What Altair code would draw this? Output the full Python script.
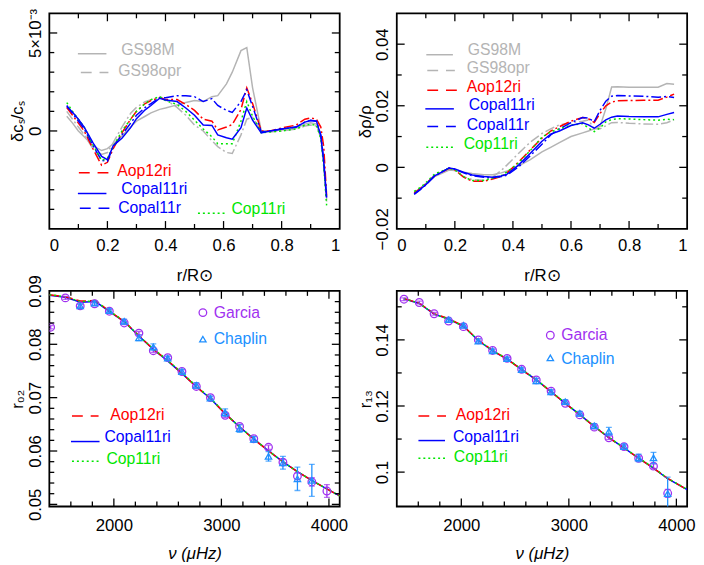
import altair as alt
import pandas as pd

FONT = "Liberation Sans"
W, H = 295, 219

# ---------------- Panel 1: delta c_s / c_s (units of 1e-3) ----------------
r_cs = [0.06, 0.08, 0.10, 0.12, 0.15, 0.18, 0.20, 0.22, 0.25, 0.28, 0.30, 0.33, 0.35, 0.38,
        0.40, 0.44, 0.47, 0.50, 0.53, 0.56, 0.58, 0.61, 0.63, 0.66, 0.68, 0.70, 0.73, 0.76,
        0.80, 0.85, 0.88, 0.90, 0.92, 0.935, 0.945, 0.955]
cs_GS98M = [0.75, 0.4, 0.0, -0.3, -0.75, -1.0, -0.9, -0.65, -0.25, 0.2, 0.5, 0.75, 0.92, 1.1,
            1.17, 1.33, 1.45, 1.55, 1.5, 1.75, 1.8, 2.4, 3.0, 4.1, 4.25, 2.2, 0.0, 0.0,
            0.05, 0.15, 0.35, 0.42, 0.35, -0.3, -1.6, -3.5]
cs_GS98opr = [1.0, 0.6, 0.2, -0.2, -0.9, -1.2, -1.1, -0.6, 0.2, 0.9, 1.2, 1.5, 1.6, 1.75,
              1.6, 1.2, 0.8, 0.3, 0.0, -0.5, -0.8, -1.1, -1.15, -0.2, 0.6, 0.7, 0.0, -0.05,
              0.0, 0.1, 0.25, 0.3, 0.25, -0.35, -1.7, -3.6]
cs_Aop12ri = [1.2, 0.8, 0.4, 0.0, -0.9, -1.75, -1.6, -0.9, -0.1, 0.6, 1.0, 1.4, 1.55, 1.7,
              1.6, 1.6, 1.35, 1.05, 0.6, 0.5, 0.05, 0.2, 0.33, 1.1, 2.2, 1.4, 0.0, 0.0,
              0.15, 0.3, 0.6, 0.67, 0.6, 0.2, -0.8, -3.3]
cs_Copal11r = [1.3, 0.9, 0.5, 0.1, -0.75, -1.5, -1.55, -0.8, -0.2, 0.4, 0.8, 1.2, 1.4, 1.7,
               1.7, 1.8, 1.8, 1.75, 1.5, 1.65, 1.3, 1.05, 0.95, 1.5, 2.1, 1.25, -0.05, 0.0,
               0.1, 0.2, 0.45, 0.55, 0.5, -0.2, -1.5, -3.5]
cs_Cop11ri = [1.45, 1.0, 0.6, 0.2, -0.7, -1.5, -1.4, -0.8, 0.0, 0.6, 1.0, 1.4, 1.6, 1.75,
              1.55, 1.35, 1.0, 0.55, 0.1, -0.3, -0.65, -0.65, -0.65, 0.5, 1.5, 0.75, -0.1, -0.05,
              0.0, 0.1, 0.3, 0.33, 0.3, -0.4, -1.8, -3.8]
cs_Copal11ri = [1.25, 0.95, 0.6, 0.2, -0.6, -1.3, -1.47, -0.75, -0.37, 0.17, 0.63, 1.08, 1.3, 1.67,
                1.58, 1.5, 1.17, 0.8, 0.3, 0.28, -0.2, -0.35, -0.42, 0.17, 1.17, 0.55, -0.1, 0.0,
                0.1, 0.2, 0.45, 0.53, 0.5, -0.25, -1.6, -3.4]

# ---------------- Panel 2: delta rho / rho ----------------
r_rho = [0.06, 0.08, 0.10, 0.13, 0.15, 0.18, 0.20, 0.23, 0.26, 0.30, 0.33, 0.36, 0.38, 0.42,
         0.46, 0.50, 0.53, 0.56, 0.60, 0.64, 0.66, 0.68, 0.70, 0.72, 0.74, 0.76, 0.80, 0.85,
         0.90, 0.93, 0.955]
rho_GS98M = [-0.0085, -0.0071, -0.0055, -0.0030, -0.0022, -0.0009, -0.0010, -0.0016, -0.0020, -0.0024,
             -0.0024, -0.0018, -0.0012, 0.0005, 0.0025, 0.0050, 0.0065, 0.0080, 0.0100, 0.0112,
             0.0118, 0.0125, 0.0133, 0.0190, 0.0261, 0.0262, 0.0260, 0.0260, 0.0260, 0.0272, 0.0270]
rho_GS98opr = [-0.0082, -0.0068, -0.0052, -0.0026, -0.0016, -0.0005, -0.0010, -0.0030, -0.0040, -0.0042,
               -0.0032, -0.0010, 0.0008, 0.0046, 0.0082, 0.0110, 0.0125, 0.0138, 0.0145, 0.0150,
               0.0154, 0.0125, 0.0125, 0.0135, 0.0145, 0.0146, 0.0143, 0.0141, 0.0140, 0.0145, 0.0154]
rho_Aop12ri = [-0.0083, -0.0070, -0.0054, -0.0028, -0.0018, -0.0003, -0.0008, -0.0032, -0.0045, -0.0045,
               -0.0038, -0.0030, -0.0018, 0.0018, 0.0057, 0.0095, 0.0118, 0.0132, 0.0150, 0.0162,
               0.0158, 0.0146, 0.0175, 0.0200, 0.0212, 0.0216, 0.0217, 0.0218, 0.0218, 0.0228, 0.0238]
rho_Copal11r = [-0.0088, -0.0073, -0.0057, -0.0028, -0.0018, -0.0002, -0.0006, -0.0018, -0.0027, -0.0032,
                -0.0034, -0.0030, -0.0025, 0.0002, 0.0038, 0.0075, 0.0105, 0.0125, 0.0145, 0.0162,
                0.0160, 0.0148, 0.0185, 0.0215, 0.0231, 0.0233, 0.0232, 0.0231, 0.0228, 0.0230, 0.0227]
rho_Cop11ri = [-0.0078, -0.0066, -0.0050, -0.0022, -0.0014, -0.0003, -0.0008, -0.0030, -0.0043, -0.0043,
               -0.0035, -0.0027, -0.0015, 0.0015, 0.0055, 0.0098, 0.0115, 0.0125, 0.0137, 0.0142,
               0.0128, 0.0116, 0.0128, 0.0148, 0.0155, 0.0158, 0.0157, 0.0155, 0.0153, 0.0156, 0.0155]
rho_Copal11ri = [-0.0086, -0.0072, -0.0056, -0.0028, -0.0018, -0.0002, -0.0005, -0.0016, -0.0025, -0.0030,
                 -0.0032, -0.0028, -0.0022, 0.0008, 0.0046, 0.0085, 0.0108, 0.0118, 0.0136, 0.0145,
                 0.0138, 0.0127, 0.0140, 0.0154, 0.0163, 0.0167, 0.0165, 0.0164, 0.0164, 0.0172, 0.0178]

# ---------------- Panel 3: r02 ----------------
nu_m02 = [1400, 1550, 1690, 1830, 1960, 2100, 2230, 2370, 2500, 2630, 2770, 2900, 3030,
          3170, 3300, 3440, 3570, 3710, 3840, 3980, 4100]
r02_Aop12ri = [0.0893, 0.0889, 0.0881, 0.0882, 0.0862, 0.0842, 0.0817, 0.0790, 0.0770, 0.0746, 0.0720,
               0.0698, 0.0671, 0.0645, 0.0622, 0.0600, 0.0580, 0.0561, 0.0545, 0.0529, 0.0516]
r02_Copal11ri = [0.0892, 0.0888, 0.0879, 0.0880, 0.0861, 0.0842, 0.0816, 0.0790, 0.0769, 0.0746, 0.0720,
                 0.0698, 0.0671, 0.0645, 0.0623, 0.0600, 0.0580, 0.0561, 0.0545, 0.0529, 0.0516]
r02_Cop11ri = [0.0893, 0.0889, 0.0880, 0.0881, 0.0862, 0.0843, 0.0816, 0.0791, 0.0770, 0.0747, 0.0721,
               0.0699, 0.0671, 0.0645, 0.0623, 0.0600, 0.0580, 0.0561, 0.0545, 0.0529, 0.0516]
garcia_nu02 = [1412, 1549, 1687, 1821, 1958, 2096, 2233, 2367, 2501, 2633, 2767, 2898, 3035, 3169,
               3301, 3438, 3572, 3707, 3841, 3981]
garcia_r02 = [0.0832, 0.0887, 0.0872, 0.0876, 0.0862, 0.0840, 0.0821, 0.0788, 0.0775, 0.0749, 0.0721,
              0.0700, 0.0667, 0.0646, 0.0623, 0.0607, 0.0579, 0.0553, 0.0542, 0.0525]
garcia_e02 = [0.0003, 0.0003, 0.0003, 0.0003, 0.0003, 0.0003, 0.0003, 0.0003, 0.0003, 0.0003, 0.0003,
              0.0003, 0.0004, 0.0004, 0.0004, 0.0004, 0.0005, 0.0006, 0.0008, 0.0012]
chaplin_nu02 = [1687, 1821, 1958, 2096, 2233, 2367, 2501, 2633, 2767, 2898, 3035, 3169, 3301, 3438,
                3572, 3707, 3841]
chaplin_r02 = [0.0872, 0.0877, 0.0863, 0.0843, 0.0812, 0.0795, 0.0774, 0.0749, 0.0723, 0.0699, 0.0672,
               0.0642, 0.0622, 0.0590, 0.0578, 0.0548, 0.0545]
chaplin_e02 = [0.0004, 0.0004, 0.0004, 0.0004, 0.0005, 0.0006, 0.0004, 0.0004, 0.0005, 0.0004, 0.0007,
               0.0007, 0.0005, 0.0009, 0.0012, 0.0022, 0.0030]

# ---------------- Panel 4: r13 ----------------
nu_m13 = [1467, 1609, 1747, 1882, 2020, 2158, 2291, 2426, 2561, 2697, 2835, 2967, 3102, 3237,
          3372, 3513, 3649, 3787, 3919, 4100]
r13_Aop12ri = [0.1525, 0.1511, 0.1479, 0.1464, 0.1442, 0.1399, 0.1368, 0.1342, 0.1310, 0.1279, 0.1243,
               0.1208, 0.1173, 0.1138, 0.1104, 0.1073, 0.1042, 0.1012, 0.0981, 0.0947]
r13_Copal11ri = [0.1524, 0.1510, 0.1478, 0.1463, 0.1441, 0.1398, 0.1367, 0.1342, 0.1310, 0.1279, 0.1243,
                 0.1208, 0.1174, 0.1138, 0.1104, 0.1073, 0.1042, 0.1012, 0.0980, 0.0947]
r13_Cop11ri = [0.1525, 0.1511, 0.1478, 0.1463, 0.1441, 0.1399, 0.1367, 0.1343, 0.1311, 0.1280, 0.1244,
               0.1209, 0.1174, 0.1139, 0.1105, 0.1074, 0.1043, 0.1013, 0.0981, 0.0948]
garcia_nu13 = [1467, 1609, 1747, 1882, 2020, 2158, 2291, 2426, 2561, 2697, 2835, 2967, 3102, 3237,
               3372, 3513, 3649, 3787, 3919]
garcia_r13 = [0.1523, 0.1513, 0.1479, 0.1457, 0.1440, 0.1400, 0.1368, 0.1344, 0.1311, 0.1279, 0.1245,
              0.1208, 0.1173, 0.1136, 0.1104, 0.1077, 0.1042, 0.1018, 0.0936]
garcia_e13 = [0.0004, 0.0004, 0.0004, 0.0004, 0.0004, 0.0004, 0.0004, 0.0004, 0.0004, 0.0004, 0.0004,
              0.0004, 0.0004, 0.0005, 0.0005, 0.0005, 0.0006, 0.0007, 0.0012]
chaplin_nu13 = [1882, 2020, 2158, 2291, 2426, 2561, 2697, 2835, 2967, 3102, 3237, 3372, 3513, 3649,
                3787, 3919]
chaplin_r13 = [0.1461, 0.1444, 0.1396, 0.1367, 0.1343, 0.1310, 0.1276, 0.1243, 0.1213, 0.1178, 0.1140,
               0.1123, 0.1077, 0.1043, 0.1043, 0.0935]
chaplin_e13 = [0.0005, 0.0005, 0.0006, 0.0005, 0.0005, 0.0005, 0.0008, 0.0006, 0.0006, 0.0006, 0.0007,
               0.0012, 0.0008, 0.0011, 0.0017, 0.0050]

# ---------------- styles ----------------
GRAY = "#b4b4b4"
RED = "#ff0000"
BLUE = "#0000ff"
GREEN = "#00e600"
PURPLE = "#a030f0"
SKY = "#2090ff"
DASHDOT = [10, 3, 2, 3]
DASH = [10, 4]
DOT = [2, 3]
LEG_DASH = [11, 8]


def line_layer(xs, ys, color, dash, sx, sy, ax, width=1.5):
    kw = dict(color=color, strokeWidth=width, clip=True)
    if dash is not None:
        kw["strokeDash"] = dash
    df = pd.DataFrame({"x": xs, "y": ys})
    return alt.Chart(df).mark_line(**kw).encode(
        x=alt.X("x:Q", scale=sx, axis=ax[0]),
        y=alt.Y("y:Q", scale=sy, axis=ax[1]),
    )


def points_layer(xs, ys, es, color, shape, sx, sy, ax):
    df = pd.DataFrame({"x": xs, "y": ys,
                       "lo": [a - b for a, b in zip(ys, es)],
                       "hi": [a + b for a, b in zip(ys, es)]})
    base = alt.Chart(df)
    X = alt.X("x:Q", scale=sx, axis=ax[0])
    bars = base.mark_rule(color=color, strokeWidth=1.3, clip=True).encode(
        x=X, y=alt.Y("lo:Q", scale=sy, axis=ax[1]), y2="hi:Q")
    caps_lo = base.mark_tick(color=color, orient="horizontal", size=6, thickness=1.3, clip=True).encode(
        x=X, y=alt.Y("lo:Q", scale=sy, axis=ax[1]))
    caps_hi = base.mark_tick(color=color, orient="horizontal", size=6, thickness=1.3, clip=True).encode(
        x=X, y=alt.Y("hi:Q", scale=sy, axis=ax[1]))
    pts = base.mark_point(shape=shape, filled=False, color=color, size=60 if shape == "circle" else 42,
                          strokeWidth=1.3, opacity=1, clip=True).encode(
        x=X, y=alt.Y("y:Q", scale=sy, axis=ax[1]))
    return [bars, caps_lo, caps_hi, pts]


def tick_layers(sx, sy, ax, xmaj, xmin, ymaj, ymin):
    out = []
    for vals, L in ((xmaj, 8), (xmin, 5)):
        base = alt.Chart(pd.DataFrame({"v": vals})).mark_rule(color="black", strokeWidth=1.3)
        xe = alt.X("v:Q", scale=sx, axis=ax[0])
        out.append(base.encode(x=xe, y=alt.value(H), y2=alt.value(H - L)))
        out.append(base.encode(x=xe, y=alt.value(0), y2=alt.value(L)))
    for vals, L in ((ymaj, 8), (ymin, 5)):
        base = alt.Chart(pd.DataFrame({"v": vals})).mark_rule(color="black", strokeWidth=1.3)
        ye = alt.Y("v:Q", scale=sy, axis=ax[1])
        out.append(base.encode(y=ye, x=alt.value(0), x2=alt.value(L)))
        out.append(base.encode(y=ye, x=alt.value(W), x2=alt.value(W - L)))
    return out


def legend_line(label, color, dash, x1, x2, ly, tx, ty):
    src = alt.Chart(pd.DataFrame({"t": [label]}))
    kw = dict(color=color, strokeWidth=1.5)
    if dash is not None:
        kw["strokeDash"] = dash
    rule = src.mark_rule(**kw).encode(x=alt.value(x1), x2=alt.value(x2), y=alt.value(ly))
    txt = src.mark_text(color=color, font=FONT, fontSize=16, align="left", baseline="middle").encode(
        text="t:N", x=alt.value(tx), y=alt.value(ty))
    return [rule, txt]


def legend_point(label, color, shape, px, py, tx, ty):
    src = alt.Chart(pd.DataFrame({"t": [label]}))
    pt = src.mark_point(shape=shape, filled=False, color=color, size=60 if shape == "circle" else 42,
                        strokeWidth=1.3, opacity=1).encode(x=alt.value(px), y=alt.value(py))
    txt = src.mark_text(color=color, font=FONT, fontSize=16, align="left", baseline="middle").encode(
        text="t:N", x=alt.value(tx), y=alt.value(ty))
    return [pt, txt]


def xaxis(values, fmt, title, italic=False, lpad=9, tpad=14):
    kw = dict(values=values, format=fmt, title=title, ticks=False, domain=False, grid=False,
              labelPadding=lpad, titlePadding=tpad, labelFontSize=17, titleFontSize=17,
              labelFont=FONT, titleFont=FONT, titleFontWeight="normal", labelColor="black",
              titleColor="black")
    if italic:
        kw["titleFontStyle"] = "italic"
    return alt.Axis(**kw)


def yaxis(values, title, fmt=None, expr=None):
    kw = dict(values=values, title=title, ticks=False, domain=False, grid=False,
              labelAngle=270, labelPadding=5, titlePadding=0, labelFontSize=17, titleFontSize=17,
              labelFont=FONT, titleFont=FONT, titleFontWeight="normal", labelColor="black",
              titleColor="black")
    if fmt is not None:
        kw["format"] = fmt
    if expr is not None:
        kw["labelExpr"] = expr
    return alt.Axis(**kw)


# ---------------- Panel 1 ----------------
sx1 = alt.Scale(domain=[0, 1], nice=False, zero=False)
sy1 = alt.Scale(domain=[-0.005, 0.006], nice=False, zero=False)
to_abs = lambda vals: [v / 1000.0 for v in vals]
ax1 = (xaxis([0, 0.2, 0.4, 0.6, 0.8, 1], ".1~f", "r/R\u2299"),
       yaxis([0, 0.005], "\u03b4c\u209b/c\u209b", expr="datum.value > 0.001 ? '5\u00d710\u207b\u00b3' : '0'"))
p1 = [
    line_layer(r_cs, to_abs(cs_GS98M), GRAY, None, sx1, sy1, ax1),
    line_layer(r_cs, to_abs(cs_GS98opr), GRAY, DASHDOT, sx1, sy1, ax1),
    line_layer(r_cs, to_abs(cs_Aop12ri), RED, DASHDOT, sx1, sy1, ax1),
    line_layer(r_cs, to_abs(cs_Copal11r), BLUE, DASHDOT, sx1, sy1, ax1),
    line_layer(r_cs, to_abs(cs_Cop11ri), GREEN, DOT, sx1, sy1, ax1),
    line_layer(r_cs, to_abs(cs_Copal11ri), BLUE, None, sx1, sy1, ax1),
]
p1 += tick_layers(sx1, sy1, ax1, [0.2, 0.4, 0.6, 0.8], [0.1, 0.3, 0.5, 0.7, 0.9],
                  [0, 0.005], [-0.004, -0.003, -0.002, -0.001, 0.001, 0.002, 0.003, 0.004])
p1 += legend_line("GS98M", GRAY, None, 29, 58, 41, 73, 37)
p1 += legend_line("GS98opr", GRAY, LEG_DASH, 32, 60, 60, 70, 59)
p1 += legend_line("Aop12ri", RED, LEG_DASH, 30, 62, 162, 69, 160)
p1 += legend_line("Copal11ri", BLUE, None, 29, 58, 183, 73, 178)
p1 += legend_line("Copal11r", BLUE, LEG_DASH, 31, 61, 198, 70, 198)
p1 += legend_line("Cop11ri", GREEN, DOT, 151, 179, 203, 185, 199)
panel1 = alt.layer(*p1).properties(width=W, height=H)

# ---------------- Panel 2 ----------------
sx2 = alt.Scale(domain=[0, 1], nice=False, zero=False)
sy2 = alt.Scale(domain=[-0.02, 0.05], nice=False, zero=False)
ax2 = (xaxis([0, 0.2, 0.4, 0.6, 0.8, 1], ".1~f", "r/R\u2299"),
       yaxis([-0.02, 0, 0.02, 0.04], "\u03b4\u03c1/\u03c1", fmt=".2~f"))
p2 = [
    line_layer(r_rho, rho_GS98M, GRAY, None, sx2, sy2, ax2),
    line_layer(r_rho, rho_GS98opr, GRAY, DASHDOT, sx2, sy2, ax2),
    line_layer(r_rho, rho_Aop12ri, RED, DASHDOT, sx2, sy2, ax2),
    line_layer(r_rho, rho_Copal11r, BLUE, DASHDOT, sx2, sy2, ax2),
    line_layer(r_rho, rho_Cop11ri, GREEN, DOT, sx2, sy2, ax2),
    line_layer(r_rho, rho_Copal11ri, BLUE, None, sx2, sy2, ax2),
]
p2 += tick_layers(sx2, sy2, ax2, [0.2, 0.4, 0.6, 0.8], [0.1, 0.3, 0.5, 0.7, 0.9],
                  [0, 0.02, 0.04], [-0.01, 0.01, 0.03])
p2 += legend_line("GS98M", GRAY, None, 30, 57, 42, 72, 37)
p2 += legend_line("GS98opr", GRAY, LEG_DASH, 31, 59, 58, 71, 56)
p2 += legend_line("Aop12ri", RED, LEG_DASH, 31, 61, 78, 71, 75)
p2 += legend_line("Copal11ri", BLUE, None, 29, 58, 97, 73, 93)
p2 += legend_line("Copal11r", BLUE, LEG_DASH, 31, 60, 115, 71, 113)
p2 += legend_line("Cop11ri", GREEN, DOT, 30, 57, 136, 68, 133)
panel2 = alt.layer(*p2).properties(width=W, height=H)

# ---------------- Panel 3 ----------------
sx3 = alt.Scale(domain=[1400, 4100], nice=False, zero=False)
sy3 = alt.Scale(domain=[0.0496, 0.09], nice=False, zero=False)
ax3 = (xaxis([2000, 3000, 4000], "d", "\u03bd  (\u03bcHz)", italic=True, lpad=11, tpad=13),
       yaxis([0.05, 0.06, 0.07, 0.08, 0.09], "r\u2080\u2082", fmt=".2f"))
p3 = [
    line_layer(nu_m02, r02_Copal11ri, BLUE, None, sx3, sy3, ax3),
    line_layer(nu_m02, r02_Aop12ri, RED, DASH, sx3, sy3, ax3),
    line_layer(nu_m02, r02_Cop11ri, GREEN, DOT, sx3, sy3, ax3),
]
p3 += points_layer(garcia_nu02, garcia_r02, garcia_e02, PURPLE, "circle", sx3, sy3, ax3)
p3 += points_layer(chaplin_nu02, chaplin_r02, chaplin_e02, SKY, "triangle-up", sx3, sy3, ax3)
p3 += tick_layers(sx3, sy3, ax3, [2000, 3000, 4000],
                  [1600, 1800, 2200, 2400, 2600, 2800, 3200, 3400, 3600, 3800],
                  [0.05, 0.06, 0.07, 0.08],
                  [0.052, 0.054, 0.056, 0.058, 0.062, 0.064, 0.066, 0.068, 0.072, 0.074,
                   0.076, 0.078, 0.082, 0.084, 0.086, 0.088])
p3 += legend_point("Garcia", PURPLE, "circle", 156, 22, 167, 22)
p3 += legend_point("Chaplin", SKY, "triangle-up", 156, 49, 167, 49)
p3 += legend_line("Aop12ri", RED, LEG_DASH, 23, 50, 127, 62, 126)
p3 += legend_line("Copal11ri", BLUE, None, 22, 51, 153, 56, 148)
p3 += legend_line("Cop11ri", GREEN, DOT, 23, 50, 173, 58, 171)
panel3 = alt.layer(*p3).properties(width=W, height=H)

# ---------------- Panel 4 ----------------
sx4 = alt.Scale(domain=[1400, 4100], nice=False, zero=False)
sy4 = alt.Scale(domain=[0.0896, 0.1548], nice=False, zero=False)
ax4 = (xaxis([2000, 3000, 4000], "d", "\u03bd  (\u03bcHz)", italic=True, lpad=11, tpad=13),
       yaxis([0.10, 0.12, 0.14], "r\u2081\u2083", fmt=".2~f"))
p4 = [
    line_layer(nu_m13, r13_Copal11ri, BLUE, None, sx4, sy4, ax4),
    line_layer(nu_m13, r13_Aop12ri, RED, DASH, sx4, sy4, ax4),
    line_layer(nu_m13, r13_Cop11ri, GREEN, DOT, sx4, sy4, ax4),
]
p4 += points_layer(garcia_nu13, garcia_r13, garcia_e13, PURPLE, "circle", sx4, sy4, ax4)
p4 += points_layer(chaplin_nu13, chaplin_r13, chaplin_e13, SKY, "triangle-up", sx4, sy4, ax4)
p4 += tick_layers(sx4, sy4, ax4, [2000, 3000, 4000],
                  [1600, 1800, 2200, 2400, 2600, 2800, 3200, 3400, 3600, 3800],
                  [0.10, 0.12, 0.14], [0.11, 0.13, 0.15])
p4 += legend_point("Garcia", PURPLE, "circle", 156, 45, 167, 45)
p4 += legend_point("Chaplin", SKY, "triangle-up", 156, 68, 167, 69)
p4 += legend_line("Aop12ri", RED, LEG_DASH, 22, 50, 127, 60, 126)
p4 += legend_line("Copal11ri", BLUE, None, 22, 49, 152, 57, 148)
p4 += legend_line("Cop11ri", GREEN, DOT, 22, 50, 170, 58, 169)
panel4 = alt.layer(*p4).properties(width=W, height=H)


def build(top_pad):
    return alt.concat(panel1, panel2, panel3, panel4, columns=2,
                      spacing={"row": 63, "column": 58}, bounds="flush").properties(
        padding={"left": 0, "top": top_pad, "right": 0, "bottom": 0}, background="white"
    ).configure_view(stroke="black", strokeWidth=1.8)


try:
    chart = build(-5)
    chart.to_dict()
except Exception:
    chart = build(0)

chart.save("out.html", embed_options={"renderer": "svg", "actions": False})
